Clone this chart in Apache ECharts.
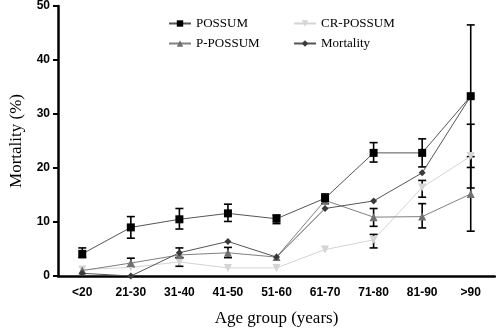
<!DOCTYPE html>
<html>
<head>
<meta charset="utf-8">
<script src="https://cdn.jsdelivr.net/npm/echarts@6/dist/echarts.min.js"></script>
<style>
  html, body { margin: 0; padding: 0; background: #fff; }
  #chart { width: 496px; height: 332px; }
</style>
</head>
<body>
<div id="chart"></div>
<script>
const ageGroups = ["<20", "21-30", "31-40", "41-50", "51-60", "61-70", "71-80", "81-90", ">90"];

// mean values (%)
const possum    = [4.1, 9.0, 10.5, 11.6, 10.6, 14.4, 22.8, 22.8, 33.3];
const pPossum   = [1.0, 2.4, 3.9, 4.3, 3.5, 14.0, 10.9, 11.0, 15.2];
const crPossum  = [1.2, 1.6, 2.6, 1.5, 1.5, 4.9, 6.7, 16.4, 22.2];
const mortality = [0.5, 0.0, 4.3, 6.4, 3.5, 12.5, 13.9, 19.1, 33.3];

// error bar ends [low, high], null = none drawn
const possumErr = [[3.4, 5.2], [7.0, 11.0], [8.7, 12.5], [10.1, 13.3], [9.7, 11.3],
                   [13.4, 15.2], [21.1, 24.7], [20.2, 25.4], [20.1, 46.5]];
const pPossumErr = [null, [1.7, 3.3], [3.4, 5.2], [3.4, 5.3], null,
                    null, [9.2, 12.5], [8.9, 13.4], [8.3, 22.1]];
const crPossumErr = [null, null, [1.8, 3.4], null, null,
                     null, [5.2, 7.7], [14.6, 17.7], [16.3, 28.1]];

const serif = "Liberation Serif";
const sans  = "Liberation Sans";

function errData(arr) {
  const out = [];
  arr.forEach((e, i) => { if (e) out.push([i, e[0], e[1]]); });
  return out;
}

function errSeries(arr) {
  return {
    type: "custom",
    silent: true,
    z: 3,
    data: errData(arr),
    encode: { x: 0, y: [1, 2] },
    renderItem: (params, api) => {
      const x = api.value(0);
      const lo = api.coord([x, api.value(1)]);
      const hi = api.coord([x, api.value(2)]);
      const w = 4;
      const style = { stroke: "#000", lineWidth: 1.6 };
      return {
        type: "group",
        children: [
          { type: "line", shape: { x1: lo[0], y1: lo[1], x2: hi[0], y2: hi[1] }, style },
          { type: "line", shape: { x1: lo[0] - w, y1: lo[1], x2: lo[0] + w, y2: lo[1] }, style },
          { type: "line", shape: { x1: hi[0] - w, y1: hi[1], x2: hi[0] + w, y2: hi[1] }, style },
        ],
      };
    },
  };
}

function lineSeries(name, data, symbol, size, markColor, lineColor, z, rotate) {
  return {
    name, type: "line", data, symbol, symbolSize: size, symbolRotate: rotate || 0, z,
    itemStyle: { color: markColor },
    lineStyle: { color: lineColor, width: 1 },
  };
}

const legendText = { fontFamily: serif, fontSize: 13, color: "#000" };

const chart = echarts.init(document.getElementById("chart"));
chart.setOption({
  animation: false,
  backgroundColor: "#fff",
  grid: { left: 49, right: 1, top: 5, bottom: 47 },
  legend: [
    { left: 163, top: 12, orient: "vertical", itemGap: 7, itemWidth: 22, itemHeight: 8,
      textStyle: legendText, data: ["POSSUM", "P-POSSUM"] },
    { left: 288, top: 12, orient: "vertical", itemGap: 7, itemWidth: 22, itemHeight: 8,
      textStyle: legendText, data: ["CR-POSSUM", "Mortality"] },
  ],
  xAxis: {
    type: "category",
    data: ageGroups,
    boundaryGap: true,
    name: "Age group (years)",
    nameLocation: "middle",
    nameGap: 34,
    nameTextStyle: { fontFamily: serif, fontSize: 17, color: "#000" },
    axisLine: { lineStyle: { color: "#000", width: 2.5 } },
    axisTick: { alignWithLabel: true, length: 5, lineStyle: { color: "#000", width: 2 } },
    axisLabel: { fontFamily: sans, fontWeight: "bold", fontSize: 12, color: "#000", margin: 11 },
  },
  yAxis: {
    type: "value",
    min: 0, max: 50, interval: 10,
    name: "Mortality (%)",
    nameLocation: "middle",
    nameGap: 33,
    nameTextStyle: { fontFamily: serif, fontSize: 17, color: "#000" },
    axisLine: { show: true, lineStyle: { color: "#000", width: 2.5 } },
    axisTick: { show: true, length: 5, lineStyle: { color: "#000", width: 2 } },
    axisLabel: { fontFamily: sans, fontWeight: "bold", fontSize: 12, color: "#000", margin: 8 },
    splitLine: { show: false },
  },
  series: [
    errSeries(pPossumErr),
    errSeries(crPossumErr),
    errSeries(possumErr),
    lineSeries("CR-POSSUM", crPossum, "triangle", 8, "#d4d4d4", "#d4d4d4", 4, 180),
    lineSeries("P-POSSUM", pPossum, "triangle", 8, "#707070", "#808080", 5),
    lineSeries("Mortality", mortality, "diamond", 7, "#3a3a3a", "#555", 6),
    lineSeries("POSSUM", possum, "rect", 8, "#000", "#555", 7),
  ],
});
</script>
</body>
</html>
